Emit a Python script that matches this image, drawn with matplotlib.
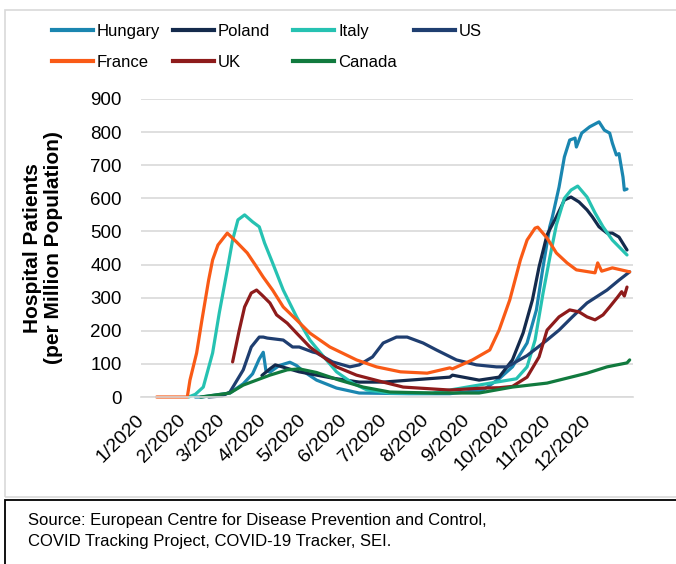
import matplotlib
matplotlib.use('Agg')
import matplotlib.pyplot as plt
from matplotlib.lines import Line2D
from matplotlib.patches import Rectangle
import pandas as pd

start = pd.Timestamp('2020-01-01')

# days since 1/1/2020 and hospital patients per million
hungary_days = [40, 45, 66, 76, 83, 88, 91, 93, 96, 103, 111, 116, 121, 131, 146, 163, 200, 231, 256, 268,
                278, 289, 296, 301, 306, 308, 313, 317, 321, 325, 326, 330, 336, 343, 347, 351, 353, 356, 358, 361,
                362, 364]
hungary_vals = [0, 0, 12, 40, 70, 115, 135, 80, 75, 95, 105, 95, 78, 51, 27, 12, 10, 10, 21, 55,
                91, 163, 263, 393, 514, 544, 634, 725, 776, 782, 755, 797, 816, 831, 806, 797, 767, 731, 735, 664,
                625, 628]

poland_days = [90, 96, 100, 118, 143, 163, 181, 201, 231, 233, 253, 268, 278, 286, 293, 298, 304, 311, 317, 322,
               328, 334, 338, 343, 349, 353, 358, 364]
poland_vals = [65, 85, 97, 76, 57, 45, 45, 51, 60, 66, 51, 60, 112, 193, 293, 393, 490, 544, 595, 604,
               589, 565, 544, 514, 495, 495, 483, 444]

italy_days = [35, 40, 46, 53, 58, 64, 68, 72, 77, 83, 88, 92, 98, 106, 116, 126, 134, 146, 158, 169,
              186, 218, 244, 266, 281, 289, 295, 301, 306, 311, 317, 322, 327, 334, 340, 346, 353, 364]
italy_vals = [0, 8, 30, 133, 254, 384, 474, 535, 550, 529, 514, 465, 405, 323, 242, 172, 133, 76, 42, 21,
              12, 12, 30, 45, 55, 91, 172, 314, 420, 520, 600, 625, 637, 604, 556, 514, 474, 429]

us_days = [50, 60, 66, 76, 82, 88, 91, 94, 106, 113, 118, 128, 131, 143, 156, 163, 173, 181, 191, 199,
           211, 221, 236, 251, 266, 274, 289, 304, 313, 323, 334, 349, 358, 366]
us_vals = [0, 3, 15, 82, 151, 181, 181, 178, 172, 151, 151, 136, 133, 106, 91, 97, 121, 163, 181, 181,
           163, 142, 112, 97, 91, 91, 125, 172, 202, 242, 284, 323, 353, 378]

france_days = [11, 34, 36, 41, 45, 50, 53, 57, 64, 71, 79, 85, 91, 98, 106, 116, 126, 141, 161, 176,
               194, 214, 231, 233, 248, 261, 268, 276, 284, 289, 295, 297, 304, 311, 319, 326, 340, 342, 345, 353,
               366]
france_vals = [0, 0, 51, 133, 233, 353, 414, 459, 495, 468, 435, 399, 362, 323, 272, 233, 193, 151, 112, 91,
               76, 72, 88, 85, 112, 142, 202, 293, 414, 474, 510, 513, 480, 435, 405, 384, 375, 405, 380, 390,
               378]

uk_days = [68, 73, 77, 82, 86, 90, 96, 101, 109, 116, 126, 139, 146, 161, 181, 196, 231, 256, 268, 278,
           289, 298, 304, 313, 321, 328, 334, 340, 346, 351, 357, 360, 362, 364]
uk_vals = [106, 202, 272, 314, 323, 308, 284, 248, 223, 193, 151, 112, 91, 66, 45, 30, 21, 27, 28, 32,
           60, 121, 202, 242, 263, 257, 242, 233, 248, 272, 302, 318, 305, 332]

canada_days = [44, 66, 76, 86, 96, 109, 118, 131, 148, 166, 186, 218, 253, 278, 304, 319, 334, 349, 364, 366]
canada_vals = [0, 12, 36, 51, 66, 82, 85, 74, 51, 30, 15, 12, 12, 30, 42, 57, 72, 91, 103, 112]

names = ['Hungary', 'Poland', 'Italy', 'US', 'France', 'UK', 'Canada']
colors = ['#1a86b0', '#142a4c', '#26c2b2', '#1f3e70', '#f95a16', '#8e1b1b', '#117a3e']
series = [(hungary_days, hungary_vals), (poland_days, poland_vals), (italy_days, italy_vals),
          (us_days, us_vals), (france_days, france_vals), (uk_days, uk_vals), (canada_days, canada_vals)]

month_ticks = pd.date_range('2020-01-01', '2020-12-01', freq='MS')
month_labels = ['{0}/2020'.format(m) for m in range(1, 13)]

plt.rcParams['font.family'] = ['Liberation Sans', 'DejaVu Sans']

W, H = 676, 564
fig = plt.figure(figsize=(W / 100, H / 100), dpi=100)
ax = fig.add_axes([141 / W, 1 - 397 / H, (633 - 141) / W, (397 - 99) / H])

for (d, v), name, c in zip(series, names, colors):
    x = start + pd.to_timedelta(d, unit='D')
    ax.plot(x, v, color=c, lw=2.3, label=name, clip_on=False, solid_capstyle='round')

ax.set_ylim(0, 900)
ax.set_yticks(range(0, 1000, 100))
ax.set_xlim(start - pd.Timedelta(days=0.75), start + pd.Timedelta(days=368.5))
ax.set_xticks(month_ticks)
ax.set_xticklabels(month_labels)
plt.setp(ax.get_xticklabels(), rotation=45, ha='right', va='center', rotation_mode='anchor')
ax.tick_params(axis='x', length=0, pad=15, labelsize=14)
ax.tick_params(axis='y', length=0, pad=14, labelsize=13.5)
ax.grid(axis='y', color='#d9d9d9', lw=1.2)
ax.set_axisbelow(True)
for s in ['top', 'right', 'left']:
    ax.spines[s].set_visible(False)
ax.spines['bottom'].set_color('#d9d9d9')
ax.spines['bottom'].set_linewidth(1.2)

fig.text(43 / W, 1 - 248 / H, 'Hospital Patients\n(per Million Population)', rotation=90,
         ha='center', va='center', fontsize=15, fontweight='bold', multialignment='center',
         linespacing=1.15)

# legend: four columns at fixed positions like the original
handles = [Line2D([], [], color=c, lw=3) for c in colors]
cols = [[0, 4], [1, 5], [2, 6], [3]]
col_x = [52, 173, 293, 414]
for idx, cx in zip(cols, col_x):
    fig.legend([handles[i] for i in idx], [names[i] for i in idx], loc='upper left',
               bbox_to_anchor=(cx / W, 1 - 24 / H), frameon=False, borderpad=0, borderaxespad=0,
               handlelength=2.45, handletextpad=0.25, labelspacing=0.97,
               prop={'size': 12})

# outer borders
fig.patches.append(Rectangle((5 / W, 1 - 497 / H), 1, 487 / H, transform=fig.transFigure,
                             fill=False, edgecolor='#d9d9d9', lw=1.2))
fig.patches.append(Rectangle((5 / W, -0.1), 1, 0.1 + (564 - 500) / H, transform=fig.transFigure,
                             fill=False, edgecolor='black', lw=1.3))

fig.text(28 / W, 1 - 531 / H,
         'Source: European Centre for Disease Prevention and Control,\nCOVID Tracking Project, COVID-19 Tracker, SEI.',
         ha='left', va='center', fontsize=12, linespacing=1.45)

fig.savefig('out.png', dpi=100)
